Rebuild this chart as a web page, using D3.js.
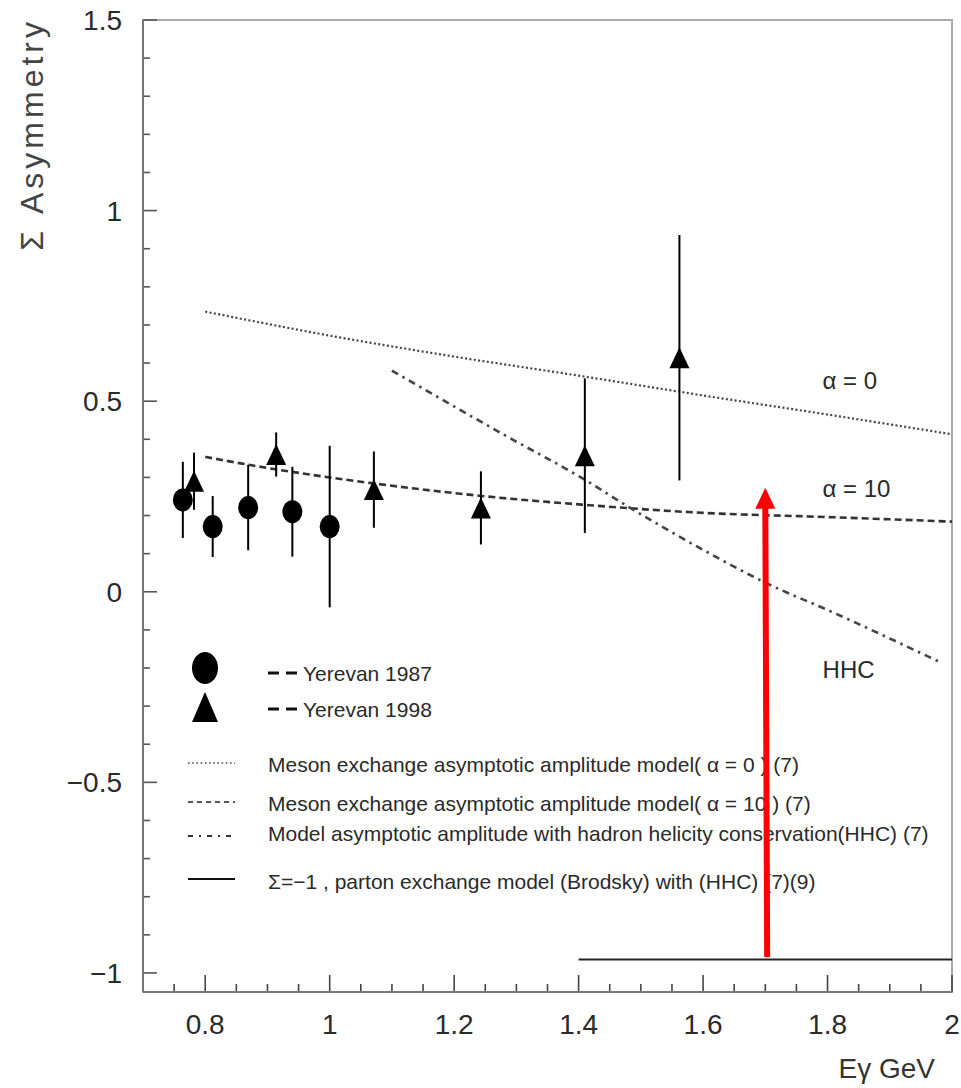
<!DOCTYPE html>
<html><head><meta charset="utf-8">
<script src="https://cdn.jsdelivr.net/npm/d3@7"></script>
<style>
html,body{margin:0;padding:0;background:#fff;}
svg{display:block;}
text{font-family:"Liberation Sans",Arial,Helvetica,sans-serif;fill:#2a2a2a;}
</style></head>
<body>
<svg id="chart" width="961" height="1088"></svg>
<script>
// ---------- data ----------
const xDomain = [0.7, 2.0];
const yDomain = [-1.05, 1.5];
const xTickValues = [0.8, 1.0, 1.2, 1.4, 1.6, 1.8, 2.0];
const xTickLabels = ["0.8", "1", "1.2", "1.4", "1.6", "1.8", "2"];
const yTickValues = [-1, -0.5, 0, 0.5, 1, 1.5];
const yTickLabels = ["\u22121", "\u22120.5", "0", "0.5", "1", "1.5"];

// Yerevan 1987 (circles)
const x1987 = [0.764, 0.812, 0.869, 0.940, 1.000];
const y1987 = [0.241, 0.171, 0.221, 0.210, 0.171];
const err1987 = [0.100, 0.080, 0.112, 0.118, 0.212];

// Yerevan 1998 (triangles)
const x1998 = [0.782, 0.914, 1.071, 1.243, 1.410, 1.562];
const y1998 = [0.290, 0.360, 0.268, 0.220, 0.357, 0.614];
const err1998 = [0.075, 0.058, 0.100, 0.096, 0.203, 0.322];

// Model curves
const alpha0X = [0.80, 1.00, 1.20, 1.40, 1.60, 1.80, 2.00];
const alpha0Y = [0.735, 0.672, 0.617, 0.567, 0.515, 0.465, 0.413];
const alpha10X = [0.80, 0.87, 1.00, 1.13, 1.24, 1.41, 1.60, 1.80, 2.00];
const alpha10Y = [0.354, 0.333, 0.300, 0.272, 0.252, 0.228, 0.207, 0.196, 0.184];
const hhcX = [1.10, 1.28, 1.41, 1.48, 1.60, 1.70, 1.81, 1.98];
const hhcY = [0.580, 0.412, 0.294, 0.223, 0.110, 0.024, -0.055, -0.184];
const partonX = [1.40, 2.00];
const partonY = [-0.965, -0.965];

// curve labels
const curveLabels = ["\u03b1 = 0", "\u03b1 = 10", "HHC"];
const curveLabelX = [1.792, 1.792, 1.792];
const curveLabelY = [0.533, 0.249, -0.226];

// legend
const legendDataLabels = ["Yerevan 1987", "Yerevan 1998"];
const legendLineLabels = [
  "Meson exchange asymptotic amplitude model( \u03b1 = 0 ) (7)",
  "Meson exchange asymptotic amplitude model( \u03b1 = 10 ) (7)",
  "Model asymptotic amplitude with hadron helicity conservation(HHC) (7)",
  "\u03a3=\u22121 , parton exchange model (Brodsky) with (HHC) (7)(9)"
];

// red annotation arrow (data coords)
const arrowFrom = [1.703, -0.958];
const arrowTo = [1.700, 0.273];

// ---------- layout ----------
const svg = d3.select("#chart");
const L = 143, R = 952, T = 20, B = 992;
const x = d3.scaleLinear().domain(xDomain).range([L, R]);
const y = d3.scaleLinear().domain(yDomain).range([B, T]);

// frame
svg.append("rect").attr("x", L).attr("y", T).attr("width", R - L).attr("height", B - T)
  .attr("fill", "none").attr("stroke", "#aaa").attr("stroke-width", 2);

// y axis ticks (inward)
const yMinor = d3.range(-1.0, 1.5001, 0.1).map(v => +v.toFixed(2));
const gy = svg.append("g");
gy.selectAll("line.minor").data(yMinor).join("line")
  .attr("x1", L).attr("x2", d => L + (yTickValues.some(t => Math.abs(t - d) < 1e-6) ? 14 : 7))
  .attr("y1", d => y(d)).attr("y2", d => y(d))
  .attr("stroke", "#555").attr("stroke-width", 1.6);
gy.selectAll("text").data(yTickValues).join("text")
  .attr("x", 122).attr("y", d => y(d)).attr("dy", "0.36em")
  .attr("text-anchor", "end").attr("font-size", 28)
  .text((d, i) => yTickLabels[i]);

// x axis ticks (inward)
const xMinor = d3.range(0.75, 2.0001, 0.05).map(v => +v.toFixed(2));
const gx = svg.append("g");
gx.selectAll("line").data(xMinor).join("line")
  .attr("x1", d => x(d)).attr("x2", d => x(d))
  .attr("y1", B).attr("y2", d => B - (xTickValues.some(t => Math.abs(t - d) < 1e-6) ? 17 : 8))
  .attr("stroke", "#444").attr("stroke-width", 1.6);
gx.selectAll("text").data(xTickValues).join("text")
  .attr("x", d => x(d)).attr("y", 1034)
  .attr("text-anchor", "middle").attr("font-size", 28)
  .text((d, i) => xTickLabels[i]);

// axis lines (left & bottom darker)
svg.append("line").attr("x1", L).attr("x2", L).attr("y1", T).attr("y2", B)
  .attr("stroke", "#777").attr("stroke-width", 2);
svg.append("line").attr("x1", L).attr("x2", R).attr("y1", B).attr("y2", B)
  .attr("stroke", "#777").attr("stroke-width", 2);

// axis titles
svg.append("text").attr("transform", "translate(43,18) rotate(-90)")
  .attr("text-anchor", "end").attr("font-size", 32).attr("letter-spacing", 4)
  .style("fill", "#444")
  .text("\u03a3 Asymmetry");
svg.append("text").attr("x", 935).attr("y", 1078).attr("text-anchor", "end")
  .attr("font-size", 28).style("fill", "#333").text("E\u03b3 GeV");

// ---------- curves ----------
const line = d3.line().x(d => x(d[0])).y(d => y(d[1])).curve(d3.curveMonotoneX);
function curve(xs, ys, dash, width, color) {
  svg.append("path").datum(xs.map((v, i) => [v, ys[i]]))
    .attr("d", line).attr("fill", "none")
    .attr("stroke", color).attr("stroke-width", width)
    .attr("stroke-dasharray", dash);
}
curve(alpha0X, alpha0Y, "2,2.4", 2.2, "#444");
curve(alpha10X, alpha10Y, "7,4", 2.6, "#333");
curve(hhcX, hhcY, "7,5,2.5,5", 2.6, "#444");
curve(partonX, partonY, null, 2, "#222");

svg.selectAll("text.clab").data(curveLabels).join("text").attr("class", "clab")
  .attr("x", (d, i) => x(curveLabelX[i])).attr("y", (d, i) => y(curveLabelY[i]))
  .attr("font-size", 24).text(d => d);

// ---------- data points ----------
function errBars(xs, ys, es) {
  svg.append("g").selectAll("line").data(xs).join("line")
    .attr("x1", d => x(d)).attr("x2", d => x(d))
    .attr("y1", (d, i) => y(ys[i] - es[i])).attr("y2", (d, i) => y(ys[i] + es[i]))
    .attr("stroke", "#000").attr("stroke-width", 2);
}
errBars(x1987, y1987, err1987);
errBars(x1998, y1998, err1998);
svg.append("g").selectAll("ellipse").data(x1987).join("ellipse")
  .attr("cx", d => x(d)).attr("cy", (d, i) => y(y1987[i]))
  .attr("rx", 10).attr("ry", 11.5).attr("fill", "#000");
const tri = (w, h) => `M0,${-h/2}L${w/2},${h/2}L${-w/2},${h/2}Z`;
svg.append("g").selectAll("path").data(x1998).join("path")
  .attr("transform", (d, i) => `translate(${x(d)},${y(y1998[i])})`)
  .attr("d", tri(20, 21)).attr("fill", "#000");

// ---------- legend ----------
const lg = svg.append("g");
lg.append("ellipse").attr("cx", 205).attr("cy", 668).attr("rx", 13).attr("ry", 16).attr("fill", "#000");
lg.append("path").attr("transform", "translate(205,707)").attr("d", tri(26, 30)).attr("fill", "#000");
[673, 709].forEach((yy, i) => {
  lg.append("line").attr("x1", 268).attr("x2", 297).attr("y1", yy).attr("y2", yy)
    .attr("stroke", "#111").attr("stroke-width", 3).attr("stroke-dasharray", "11,7");
  lg.append("text").attr("x", 303).attr("y", yy + 8).attr("font-size", 21)
    .text(legendDataLabels[i]);
});
const legLineY = [763, 802, 836, 879];
const legTextY = [772, 811, 841, 889];
const legDash = ["1.6,2.6", "5,4", "5,6,2,6", null];
const legColor = ["#777", "#555", "#333", "#111"];
legendLineLabels.forEach((lab, i) => {
  lg.append("line").attr("x1", 188).attr("x2", 235).attr("y1", legLineY[i]).attr("y2", legLineY[i])
    .attr("stroke", legColor[i]).attr("stroke-width", 2).attr("stroke-dasharray", legDash[i]);
  lg.append("text").attr("x", 268).attr("y", legTextY[i]).attr("font-size", 21).text(lab);
});

// ---------- red arrow ----------
const ax1 = x(arrowFrom[0]), ay1 = y(arrowFrom[1]);
const ax2 = x(arrowTo[0]), ay2 = y(arrowTo[1]);
svg.append("line").attr("x1", ax1).attr("y1", ay1).attr("x2", ax2).attr("y2", ay2 + 18)
  .attr("stroke", "#ff0000").attr("stroke-width", 6);
svg.append("path")
  .attr("d", `M${ax2},${ay2}L${ax2 + 10},${ay2 + 21}L${ax2 - 10},${ay2 + 21}Z`)
  .attr("fill", "#ff0000");
</script>
</body></html>
